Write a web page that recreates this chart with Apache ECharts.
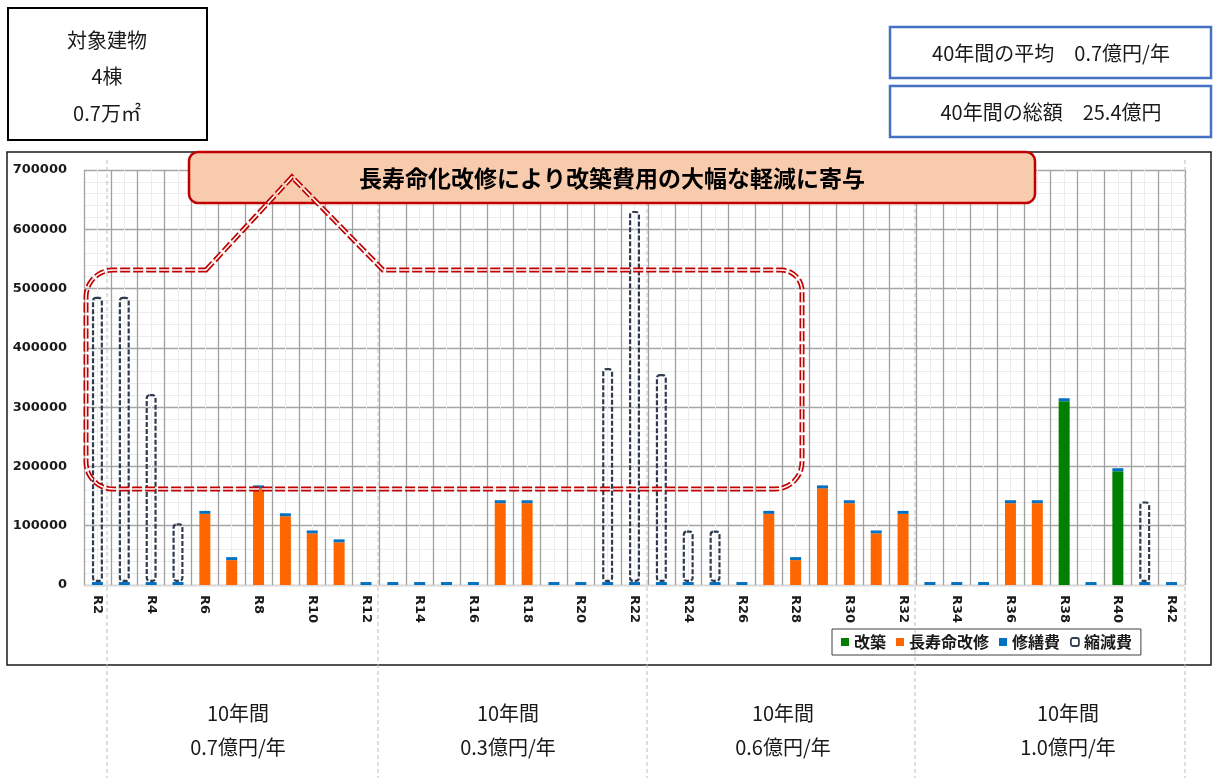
<!DOCTYPE html>
<html>
<head>
<meta charset="utf-8">
<script src="https://cdn.jsdelivr.net/npm/echarts@6/dist/echarts.min.js"></script>
<style>
  html, body { margin: 0; padding: 0; background: #fff; }
  #chart { width: 1213px; height: 778px; }
</style>
</head>
<body>
<div id="chart"></div>
<script>
// 年度（R2〜R42）
const categories = ['R2','R3','R4','R5','R6','R7','R8','R9','R10','R11','R12',
  'R13','R14','R15','R16','R17','R18','R19','R20','R21','R22',
  'R23','R24','R25','R26','R27','R28','R29','R30','R31','R32',
  'R33','R34','R35','R36','R37','R38','R39','R40','R41','R42'];

// 改築（千円）
const kaichiku = [null,null,null,null,null,null,null,null,null,null,
  null,null,null,null,null,null,null,null,null,null,
  null,null,null,null,null,null,null,null,null,null,
  null,null,null,null,null,null,310000,null,192000,null,
  null];

// 長寿命改修（千円）
const chojumyo = [null,null,null,null,120000,42000,163000,116000,87000,72000,
  null,null,null,null,null,138000,138000,null,null,null,
  null,null,null,null,null,120000,42000,163000,138000,87000,
  120000,null,null,null,138000,138000,null,null,null,null,
  null];

// 修繕費（千円）
const shuzen = [5000,5000,5000,5000,5000,5000,5000,5000,5000,5000,
  5000,5000,5000,5000,5000,5000,5000,5000,5000,5000,
  5000,5000,5000,5000,5000,5000,5000,5000,5000,5000,
  5000,5000,5000,5000,5000,5000,5000,5000,5000,5000,
  5000];

// 縮減費（千円）
const shukugen = [481000,481000,317000,99000,null,null,null,null,null,null,
  null,null,null,null,null,null,null,null,null,361000,
  626000,351000,87000,87000,null,null,null,null,null,null,
  null,null,null,null,null,null,null,null,null,136000,
  null];

const yTicks = { min: 0, max: 700000, interval: 100000 };

const infoLines = ['対象建物', '4棟', '0.7万㎡'];
const summaryLines = ['40年間の平均　0.7億円/年', '40年間の総額　25.4億円'];
const periodTitles = ['10年間', '10年間', '10年間', '10年間'];
const periodRates = ['0.7億円/年', '0.3億円/年', '0.6億円/年', '1.0億円/年'];
const calloutText = '長寿命化改修により改築費用の大幅な軽減に寄与';

const JP = '"Noto Sans CJK JP", "Noto Sans", sans-serif';
const AX = '"DejaVu Sans", Verdana, sans-serif';

const chart = echarts.init(document.getElementById('chart'));

// 角丸部分を点列で近似する
function arcPts(cx, cy, r, a0, a1, n) {
  const pts = [];
  for (let i = 0; i <= n; i++) {
    const a = (a0 + (a1 - a0) * i / n) * Math.PI / 180;
    pts.push([cx + r * Math.cos(a), cy + r * Math.sin(a)]);
  }
  return pts;
}
// 吹き出しの枠線（三角の突起付き角丸四角形）
const bubblePts = [].concat(
  [[206, 270], [292, 177], [383, 270]],
  arcPts(781, 291, 21, -90, 0, 10),
  arcPts(775, 462, 27, 0, 90, 10),
  arcPts(113, 462, 27, 90, 180, 10),
  arcPts(113, 297, 27, 180, 270, 10)
);

// 枠・注記類
const graphics = [];
// グラフ外枠
graphics.push({ type: 'rect', z: 1, shape: { x: 7, y: 152, width: 1204, height: 513 },
  style: { fill: 'none', stroke: '#1a1a1a', lineWidth: 1.5 } });
// 対象建物ボックス
graphics.push({ type: 'rect', z: 1, shape: { x: 8, y: 8, width: 199, height: 132 },
  style: { fill: '#fff', stroke: '#000', lineWidth: 2 } });
const infoY = [40, 76, 113];
infoLines.forEach((t, i) => graphics.push({ type: 'text', z: 2, x: 107, y: infoY[i],
  style: { text: t, align: 'center', verticalAlign: 'middle', fontSize: 20, fontFamily: JP, fill: '#1a1a1a' } }));
// 40年間の平均・総額
const sumBoxY = [27, 86];
summaryLines.forEach((t, i) => {
  graphics.push({ type: 'rect', z: 1, shape: { x: 890, y: sumBoxY[i], width: 321, height: 51 },
    style: { fill: '#fff', stroke: '#4472c4', lineWidth: 2.5 } });
  graphics.push({ type: 'text', z: 2, x: 1051, y: sumBoxY[i] + 26,
    style: { text: t, align: 'center', verticalAlign: 'middle', fontSize: 20, fontFamily: JP, fill: '#1a1a1a' } });
});
// 10年ごとの区切り線
[107, 378, 647, 915, 1185].forEach(x => graphics.push({ type: 'line', z: 90,
  shape: { x1: x, y1: 160, x2: x, y2: 778 },
  style: { stroke: '#bdbdbd', lineWidth: 1, lineDash: [4, 3] } }));
// 10年ごとの平均
const periodX = [238, 508, 783, 1068];
periodX.forEach((x, i) => {
  graphics.push({ type: 'text', z: 2, x: x, y: 713,
    style: { text: periodTitles[i], align: 'center', verticalAlign: 'middle', fontSize: 20, fontFamily: JP, fill: '#1a1a1a' } });
  graphics.push({ type: 'text', z: 2, x: x, y: 747,
    style: { text: periodRates[i], align: 'center', verticalAlign: 'middle', fontSize: 20, fontFamily: JP, fill: '#1a1a1a' } });
});
// 吹き出し
graphics.push({ type: 'rect', z: 95, shape: { x: 189, y: 152, width: 846, height: 51, r: 9 },
  style: { fill: '#f8cbad', stroke: '#c00000', lineWidth: 2.5 } });
graphics.push({ type: 'polygon', z: 98, shape: { points: bubblePts },
  style: { fill: 'none', stroke: '#c00000', lineWidth: 5, lineDash: [10, 3] } });
graphics.push({ type: 'polygon', z: 99, shape: { points: bubblePts },
  style: { fill: 'none', stroke: '#ffffff', lineWidth: 1.6, lineDash: [10, 3] } });
graphics.push({ type: 'text', z: 100, x: 612, y: 178,
  style: { text: calloutText, align: 'center', verticalAlign: 'middle', fontSize: 23, fontWeight: 'bold', fontFamily: JP, fill: '#000' } });

const option = {
  backgroundColor: '#fff',
  animation: false,
  grid: { left: 84, right: 28, top: 170, bottom: 193, containLabel: false },
  legend: {
    left: 832, top: 629,
    padding: [5, 9],
    itemWidth: 8, itemHeight: 8, itemGap: 10,
    backgroundColor: '#fff',
    borderColor: '#404040', borderWidth: 1,
    textStyle: { fontFamily: JP, fontWeight: 'bold', fontSize: 16, color: '#1a1a1a' },
    data: [
      { name: '改築', icon: 'rect' },
      { name: '長寿命改修', icon: 'rect' },
      { name: '修繕費', icon: 'rect' },
      { name: '縮減費', icon: 'roundRect',
        itemStyle: { color: '#fff', borderColor: '#333f50', borderWidth: 1.8, borderType: 'solid' } }
    ]
  },
  xAxis: [
    {
      type: 'category',
      data: categories,
      boundaryGap: true,
      axisLine: { lineStyle: { color: '#d9d9d9' } },
      axisTick: { show: false },
      splitLine: { show: false },
      axisLabel: {
        interval: 1, rotate: -90, margin: 10,
        fontFamily: AX, fontWeight: 'bold', fontSize: 13, color: '#1a1a1a'
      }
    },
    {
      // 目盛線用の補助軸（年度の境界と中央）
      type: 'value',
      position: 'bottom',
      min: -0.5, max: 40.5, interval: 1,
      axisLine: { show: false }, axisTick: { show: false }, axisLabel: { show: false },
      splitLine: { show: true, lineStyle: { color: '#a0a0a0', width: 1.3 } },
      minorTick: { show: false, splitNumber: 2 },
      minorSplitLine: { show: true, lineStyle: { color: '#ececec', width: 1 } }
    }
  ],
  yAxis: {
    type: 'value',
    min: yTicks.min, max: yTicks.max, interval: yTicks.interval,
    axisLine: { show: false },
    axisTick: { show: false },
    axisLabel: { margin: 17, fontFamily: AX, fontWeight: 'bold', fontSize: 13, color: '#1a1a1a',
      formatter: v => String(v) },
    splitLine: { lineStyle: { color: '#a6a6a6', width: 1.3 } },
    minorTick: { show: false, splitNumber: 5 },
    minorSplitLine: { show: true, lineStyle: { color: '#ececec', width: 1 } }
  },
  series: [
    { name: '改築', type: 'bar', stack: 'cost', barWidth: 11, data: kaichiku,
      itemStyle: { color: '#008000' } },
    { name: '長寿命改修', type: 'bar', stack: 'cost', barWidth: 11, data: chojumyo,
      itemStyle: { color: '#ff6600' } },
    { name: '修繕費', type: 'bar', stack: 'cost', barWidth: 11, data: shuzen,
      itemStyle: { color: '#0070c0' } },
    { name: '縮減費', type: 'bar', stack: 'cost', barWidth: 11, data: shukugen,
      itemStyle: { color: 'rgba(0,0,0,0)', borderColor: '#2f3b4e', borderWidth: 2.2,
        borderType: [5, 2], borderRadius: 3 } }
  ],
  graphic: { elements: graphics }
};

chart.setOption(option);
</script>
</body>
</html>
